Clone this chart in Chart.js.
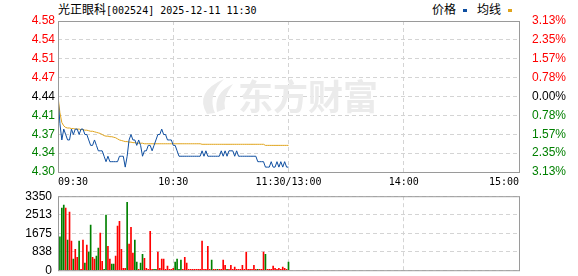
<!DOCTYPE html>
<html>
<head>
<meta charset="utf-8">
<script src="https://cdn.jsdelivr.net/npm/chart.js@4/dist/chart.umd.min.js"></script>
<style>
  body { margin: 0; background: #fff; width: 578px; height: 276px; position: relative; overflow: hidden; font-family: "Noto Sans CJK SC", sans-serif; }
  #title { position: absolute; left: 58px; top: 0px; font-size: 12px; line-height: 17px; color: #000; white-space: nowrap; }
  .mono { font-family: "DejaVu Sans Mono", monospace; font-size: 10px; }
  #legend { position: absolute; left: 432px; top: 0px; font-size: 12px; line-height: 17px; color: #000; white-space: nowrap; }
  .mark { display: inline-block; width: 4px; height: 3px; vertical-align: middle; margin: 0 10px 0 7px; }
  canvas { position: absolute; left: 0; }
</style>
</head>
<body>
<div id="title">光正眼科<span class="mono">[002524] 2025-12-11 11:30</span></div>
<div id="legend">价格<span class="mark" style="background:#0e4ea0"></span>均线<span class="mark" style="background:#e0a41c"></span></div>
<canvas id="price-chart" width="578" height="190" style="top:0"></canvas>
<canvas id="volume-chart" width="578" height="86" style="top:190px"></canvas>
<script>
var timeTicks = ["09:30", "10:30", "11:30/13:00", "14:00", "15:00"];
var priceTicks = ["4.58", "4.54", "4.51", "4.47", "4.44", "4.41", "4.37", "4.34", "4.30"];
var pctTicks = ["3.13%", "2.35%", "1.57%", "0.78%", "0.00%", "0.78%", "1.57%", "2.35%", "3.13%"];
var volTicks = ["3350", "2513", "1675", "838", "0"];
var priceMin = 4.301;
var priceMax = 4.579;
var volMax = 3350;

// 09:30 .. 11:30, one value per minute
var price = [
  4.44, 4.39, 4.36, 4.38, 4.37, 4.36, 4.36, 4.38, 4.37, 4.38,
  4.38, 4.37, 4.38, 4.38, 4.37, 4.37, 4.36, 4.35, 4.35, 4.36,
  4.35, 4.34, 4.34, 4.34, 4.33, 4.32, 4.33, 4.32, 4.32, 4.32,
  4.32, 4.32, 4.33, 4.33, 4.33, 4.31, 4.33, 4.36, 4.37, 4.36,
  4.36, 4.35, 4.36, 4.35, 4.33, 4.34, 4.34, 4.35, 4.35, 4.34,
  4.35, 4.36, 4.37, 4.37, 4.38, 4.37, 4.37, 4.36, 4.36, 4.36,
  4.35, 4.35, 4.34, 4.33, 4.33, 4.33, 4.33, 4.33, 4.33, 4.33,
  4.33, 4.33, 4.33, 4.33, 4.33, 4.34, 4.33, 4.34, 4.33, 4.33,
  4.33, 4.33, 4.33, 4.33, 4.33, 4.34, 4.33, 4.34, 4.33, 4.34,
  4.34, 4.34, 4.33, 4.34, 4.33, 4.33, 4.33, 4.33, 4.33, 4.33,
  4.33, 4.33, 4.33, 4.33, 4.32, 4.32, 4.32, 4.32, 4.31, 4.31,
  4.31, 4.32, 4.31, 4.31, 4.32, 4.31, 4.32, 4.31, 4.32, 4.31,
  4.31
];
var avgPrice = [
  4.440, 4.410, 4.392, 4.386, 4.383, 4.382, 4.382, 4.381, 4.381, 4.380,
  4.380, 4.380, 4.379, 4.379, 4.378, 4.378, 4.377, 4.376, 4.376, 4.375,
  4.374, 4.373, 4.372, 4.370, 4.368, 4.367, 4.367, 4.366, 4.366, 4.365,
  4.364, 4.362, 4.360, 4.359, 4.358, 4.357, 4.357, 4.356, 4.356, 4.355,
  4.355, 4.354, 4.354, 4.354, 4.354, 4.353, 4.353, 4.353, 4.353, 4.353,
  4.353, 4.353, 4.353, 4.353, 4.353, 4.353, 4.353, 4.353, 4.353, 4.353,
  4.353, 4.353, 4.353, 4.353, 4.353, 4.353, 4.353, 4.353, 4.353, 4.353,
  4.353, 4.353, 4.353, 4.353, 4.353, 4.352, 4.352, 4.352, 4.352, 4.352,
  4.352, 4.352, 4.352, 4.352, 4.352, 4.352, 4.352, 4.352, 4.352, 4.352,
  4.352, 4.352, 4.352, 4.352, 4.352, 4.352, 4.352, 4.352, 4.352, 4.352,
  4.352, 4.352, 4.352, 4.352, 4.352, 4.352, 4.352, 4.352, 4.350, 4.350,
  4.350, 4.350, 4.350, 4.350, 4.350, 4.350, 4.350, 4.350, 4.350, 4.350,
  4.350
];
var volume = [
  0, 1509, 2807, 2943, 2807, 1358, 2626, 1313, 498, 950,
  588, 1313, 45, 1358, 317, 1132, 815, 2037, 588, 498,
  634, 996, 1675, 407, 45, 2490, 1086, 498, 272, 272,
  634, 1992, 2218, 950, 90, 90, 3078, 1177, 1946, 770,
  1358, 362, 45, 317, 724, 543, 90, 45, 1765, 45,
  45, 45, 815, 90, 498, 498, 45, 181, 45, 45,
  90, 362, 498, 45, 453, 45, 588, 317, 45, 45,
  45, 45, 45, 45, 45, 1313, 45, 45, 1086, 45,
  453, 45, 45, 45, 45, 45, 453, 226, 45, 45,
  226, 45, 136, 45, 45, 45, 226, 45, 815, 45,
  45, 45, 226, 45, 45, 45, 45, 815, 724, 45,
  45, 45, 181, 90, 45, 90, 45, 136, 90, 45,
  362
];
// 1 = up minute (red), -1 = down minute (green)
var volDir = [
  1, -1, -1, -1, 1, -1, 1, 1, -1, 1,
  1, -1, 1, 1, -1, 1, -1, -1, 1, 1,
  -1, -1, 1, 1, -1, -1, 1, 1, -1, -1,
  1, 1, 1, 1, 1, 1, -1, 1, 1, 1,
  -1, -1, 1, -1, -1, 1, 1, 1, 1, 1,
  -1, -1, 1, 1, 1, 1, 1, 1, 1, 1,
  1, -1, -1, -1, -1, 1, 1, 1, 1, 1,
  1, 1, 1, 1, 1, 1, 1, 1, 1, 1,
  -1, 1, 1, -1, 1, 1, 1, 1, -1, 1,
  1, 1, 1, 1, 1, 1, 1, 1, 1, 1,
  1, 1, 1, 1, -1, 1, 1, 1, -1, 1,
  1, 1, 1, 1, 1, 1, 1, 1, 1, 1,
  -1
];

var RED = "#ff0000";
var GREEN = "#008000";

var pricePoints = price.map(function (p, i) { return { x: i, y: p }; });
var avgPoints = avgPrice.map(function (p, i) { return { x: i, y: p }; });
var volPoints = volume.map(function (v, i) { return { x: i, y: v }; });
var volColors = volDir.map(function (d) { return d > 0 ? RED : GREEN; });

function timeAxisTicks(scale) {
  scale.ticks = timeTicks.map(function (t, i) { return { value: i * 60 }; });
}
function priceAxisTicks(scale) {
  scale.ticks = priceTicks.map(function (t, i) {
    return { value: priceMin + (i * (priceMax - priceMin)) / 8 };
  });
}
function priceColor(ctx) {
  if (ctx.index > 4) return RED;
  if (ctx.index < 4) return GREEN;
  return "#000";
}

var boxPlugin = {
  id: "box",
  afterDraw: function (chart) {
    var a = chart.chartArea;
    var ctx = chart.ctx;
    ctx.save();
    ctx.strokeStyle = "#9a9a9a";
    ctx.lineWidth = 1;
    ctx.strokeRect(a.left + 0.5, a.top + 0.5, a.right - a.left, a.bottom - a.top);
    ctx.restore();
  },
};

var watermark = {
  id: "watermark",
  beforeDatasetsDraw: function (chart) {
    var ctx = chart.ctx;
    ctx.save();
    ctx.fillStyle = "#ebebeb";
    ctx.beginPath();
    ctx.moveTo(207, 114);
    ctx.quadraticCurveTo(194, 92, 224, 79);
    ctx.quadraticCurveTo(207, 95, 215, 113);
    ctx.closePath();
    ctx.fill();
    ctx.beginPath();
    ctx.moveTo(217, 112);
    ctx.quadraticCurveTo(213, 93, 233, 84);
    ctx.quadraticCurveTo(222, 98, 225, 109);
    ctx.closePath();
    ctx.fill();
    ctx.font = "bold 35px 'Noto Sans CJK SC'";
    ctx.textBaseline = "middle";
    ctx.fillText("东方财富", 238, 97);
    ctx.restore();
  },
};

var priceChart = new Chart(document.getElementById("price-chart"), {
  type: "line",
  data: {
    datasets: [
      { data: pricePoints, borderColor: "#0e4ea0", borderWidth: 1, pointRadius: 0, tension: 0 },
      { data: avgPoints, borderColor: "#e0a41c", borderWidth: 1, pointRadius: 0, tension: 0 },
    ],
  },
  options: {
    responsive: false,
    animation: false,
    layout: { padding: { top: 21 } },
    plugins: { legend: { display: false }, tooltip: { enabled: false } },
    scales: {
      x: {
        type: "linear",
        min: 0,
        max: 240,
        afterBuildTicks: timeAxisTicks,
        afterFit: function (s) { s.height = 18; },
        ticks: {
          autoSkip: false,
          maxRotation: 0,
          align: "inner",
          padding: 4,
          color: "#000",
          font: { family: "DejaVu Sans Mono", size: 10 },
          callback: function (v, i) { return timeTicks[i]; },
        },
        grid: { color: "#d4d4d4", drawTicks: false },
        border: { display: false, dash: [4, 3] },
      },
      y: {
        position: "left",
        min: priceMin,
        max: priceMax,
        afterBuildTicks: priceAxisTicks,
        afterFit: function (s) { s.width = 58; },
        ticks: {
          autoSkip: false,
          padding: 3,
          color: priceColor,
          font: { family: "Liberation Sans", size: 12 },
          callback: function (v, i) { return priceTicks[8 - i]; },
        },
        grid: { color: "#d4d4d4", drawTicks: false },
        border: { display: false, dash: [4, 3] },
      },
      y1: {
        position: "right",
        min: priceMin,
        max: priceMax,
        afterBuildTicks: priceAxisTicks,
        afterFit: function (s) { s.width = 59; },
        ticks: {
          autoSkip: false,
          padding: 5,
          color: priceColor,
          font: { family: "Liberation Sans", size: 12 },
          callback: function (v, i) { return pctTicks[8 - i]; },
        },
        grid: { display: false },
        border: { display: false },
      },
    },
  },
  plugins: [watermark, boxPlugin],
});

var volumeCanvas = document.getElementById("volume-chart");
var volumeChart = new Chart(volumeCanvas, {
  type: "bar",
  data: {
    datasets: [
      { data: volPoints, backgroundColor: volColors, barThickness: 1 },
    ],
  },
  options: {
    responsive: false,
    maintainAspectRatio: false,
    animation: false,
    layout: { padding: { top: 6, right: 59 } },
    plugins: { legend: { display: false }, tooltip: { enabled: false } },
    scales: {
      x: {
        type: "linear",
        min: 0,
        max: 240,
        offset: false,
        afterBuildTicks: timeAxisTicks,
        afterFit: function (s) { s.height = 6; },
        ticks: { display: false },
        grid: { color: "#d4d4d4", drawTicks: false, offset: false },
        border: { display: false, dash: [4, 3] },
      },
      y: {
        min: 0,
        max: volMax,
        afterBuildTicks: function (scale) {
          scale.ticks = volTicks.map(function (t, i) { return { value: (i * volMax) / 4 }; });
        },
        afterFit: function (s) { s.width = 58; },
        ticks: {
          autoSkip: false,
          padding: 6,
          color: "#000",
          font: { family: "Liberation Sans", size: 12 },
          callback: function (v, i) { return volTicks[4 - i]; },
        },
        grid: { color: "#d4d4d4", drawTicks: false },
        border: { display: false, dash: [4, 3] },
      },
    },
  },
  plugins: [boxPlugin],
});

// the value labels push the plot area in; size the canvas so the box sits at y 196..270
var area = volumeChart.chartArea;
var marginTop = area.top;
var marginBottom = volumeChart.height - area.bottom;
volumeCanvas.style.top = (196 - marginTop) + "px";
volumeChart.resize(578, 74 + marginTop + marginBottom);
</script>
</body>
</html>
